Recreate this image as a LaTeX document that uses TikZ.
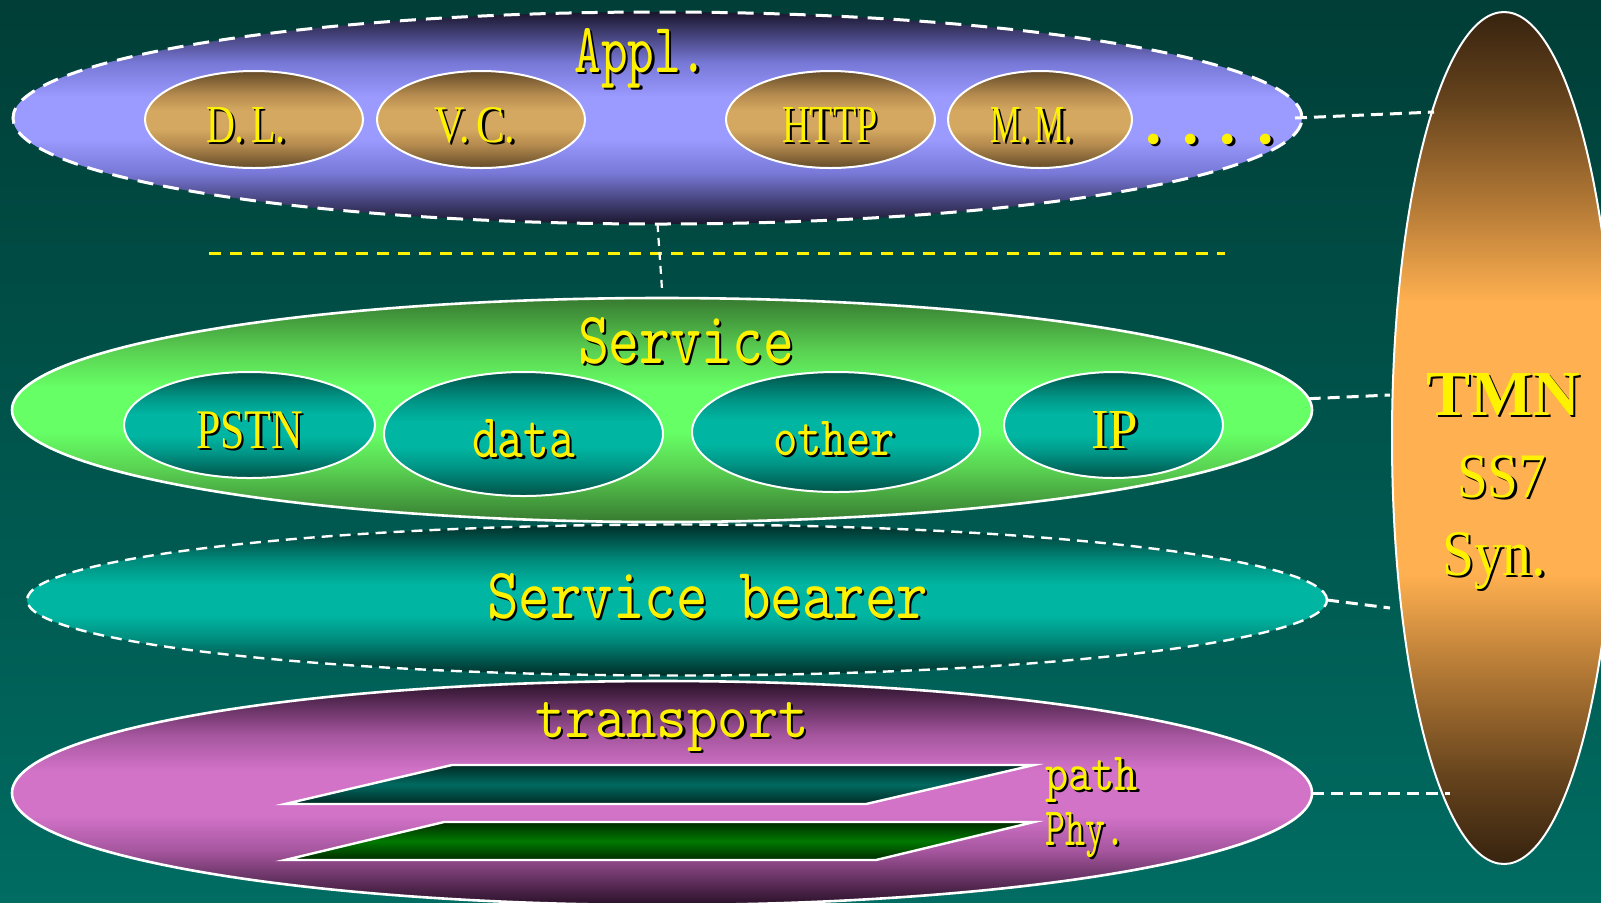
\documentclass[tikz,border=0pt]{standalone}
\usepackage{fontspec}
\setmainfont{Liberation Serif}
\usepackage{graphicx}
\usetikzlibrary{shapes.geometric,calc}
\newcommand\monof{\ttfamily\addfontfeatures{FakeBold=2.2}}

\definecolor{bgT}{RGB}{0,62,55}
\definecolor{bgB}{RGB}{0,108,98}
\definecolor{aD}{RGB}{26,22,45}
\definecolor{aM}{RGB}{120,120,215}
\definecolor{aL}{RGB}{154,154,255}
\definecolor{oD}{RGB}{100,75,40}
\definecolor{oM}{RGB}{180,138,78}
\definecolor{oL}{RGB}{212,168,96}
\definecolor{sD}{RGB}{55,122,48}
\definecolor{sM}{RGB}{90,210,82}
\definecolor{sL}{RGB}{102,255,102}
\definecolor{tD}{RGB}{0,82,72}
\definecolor{tM}{RGB}{0,150,135}
\definecolor{tL}{RGB}{0,182,162}
\definecolor{bD}{RGB}{0,45,40}
\definecolor{bM}{RGB}{0,140,125}
\definecolor{bL}{RGB}{0,182,162}
\definecolor{pD}{RGB}{40,16,40}
\definecolor{pM}{RGB}{165,85,158}
\definecolor{pL}{RGB}{210,115,200}
\definecolor{mD}{RGB}{55,35,15}
\definecolor{mA}{RGB}{100,66,28}
\definecolor{mM}{RGB}{175,118,52}
\definecolor{mL}{RGB}{255,176,80}
\definecolor{paE}{RGB}{0,42,36}
\definecolor{paM}{RGB}{0,106,96}
\definecolor{phE}{RGB}{0,42,0}
\definecolor{phM}{RGB}{0,122,0}

\newcommand\mksh[4]{\pgfdeclareverticalshading{#1}{100bp}{color(0bp)=(#2); color(25bp)=(#2); color(37bp)=(#3); color(45bp)=(#4); color(55bp)=(#4); color(63bp)=(#3); color(75bp)=(#2); color(100bp)=(#2)}}
\mksh{shAppl}{aD}{aM}{aL}
\mksh{shOra}{oD}{oM}{oL}
\mksh{shServ}{sD}{sM}{sL}
\mksh{shTeal}{tD}{tM}{tL}
\mksh{shBear}{bD}{bM}{bL}
\mksh{shTrans}{pD}{pM}{pL}
\pgfdeclareverticalshading{shTmn}{100bp}{color(0bp)=(mD); color(25bp)=(mD); color(30bp)=(mA); color(36bp)=(mM); color(42bp)=(mL); color(58bp)=(mL); color(64bp)=(mM); color(70bp)=(mA); color(75bp)=(mD); color(100bp)=(mD)}

\newcommand\lbl[4]{\rlap{\kern1.2pt\raisebox{-1.2pt}{\color{black}\resizebox{#2}{#3}{#1#4}}}{\color{yellow}\resizebox{#2}{#3}{#1#4}}}
\newcommand\dotrow{.\hspace{7.5pt}.\hspace{7.5pt}.\hspace{7.5pt}.}

\begin{document}
\begin{tikzpicture}[x=0.5pt,y=-0.5pt,
  layer/.style={ellipse, draw=white, line width=1.3pt, inner sep=0pt, outer sep=0pt, shade},
  sub/.style={ellipse, draw=white, line width=1pt, inner sep=0pt, outer sep=0pt, shade},
  conn/.style={draw=white, line width=1.5pt, dash pattern=on 6pt off 3.5pt},
  vconn/.style={draw=white, line width=1.1pt, dash pattern=on 4pt off 3pt},
  sepline/.style={draw=yellow, line width=1.5pt, dash pattern=on 6.2pt off 4.3pt},
  txt/.style={inner sep=0pt, outer sep=0pt, anchor=base},
  plate/.style={draw=white, line width=1.2pt}]
\useasboundingbox (0,0) rectangle (1601,902);
\clip (0,0) rectangle (1601,902);
\shade[top color=bgT, bottom color=bgB] (0,0) rectangle (1601,902);

% separator
\coordinate (y1) at (209,253);
\coordinate (y2) at (1225,253);
\draw[sepline] (y1) -- (y2);

% Application layer
\node[layer, shading=shAppl, line width=1.5pt, dash pattern=on 8pt off 5pt, minimum width=644.5pt, minimum height=106pt] (appl) at (657.5,118) {};
\node[sub, shading=shOra, minimum width=109pt, minimum height=48.5pt] (dl) at (254,119.5) {};
\node[sub, shading=shOra, minimum width=104pt, minimum height=48.5pt] (vc) at (481,119.5) {};
\node[sub, shading=shOra, minimum width=104.5pt, minimum height=48.5pt] (http) at (830.5,119.5) {};
\node[sub, shading=shOra, minimum width=92pt, minimum height=48.5pt] (mm) at (1040,119.5) {};
\node[txt] (tappl) at (641,72) {\lbl{\monof}{66.5pt}{22pt}{Appl.}};
\node[txt] (tdl) at (246,142) {\lbl{}{40pt}{17.5pt}{D.\,L.}};
\node[txt] (tvc) at (475,142) {\lbl{}{40.5pt}{17.5pt}{V.\,C.}};
\node[txt] (thttp) at (830,142) {\lbl{}{47.5pt}{17.5pt}{HTTP}};
\node[txt] (tmm) at (1032,142) {\lbl{}{41.5pt}{17.5pt}{M.\,M.}};
\node[txt, anchor=base west] (tdots) at (1142,143) {\fontsize{45pt}{45pt}\selectfont\rlap{\kern1.3pt\raisebox{-1.3pt}{\color{black}\dotrow}}{\color{yellow}\dotrow}};

% Service layer
\node[layer, shading=shServ, minimum width=650pt, minimum height=112pt] (service) at (662,410) {};
\node[sub, shading=shTeal, minimum width=125.5pt, minimum height=53pt] (pstn) at (249.5,425) {};
\node[sub, shading=shTeal, minimum width=139.5pt, minimum height=62pt] (data) at (523.5,434) {};
\node[sub, shading=shTeal, minimum width=144pt, minimum height=60pt] (other) at (836,432) {};
\node[sub, shading=shTeal, minimum width=109.5pt, minimum height=53pt] (ip) at (1113.5,425) {};
\node[txt] (tservice) at (686,363) {\lbl{\monof}{108pt}{23pt}{Service}};
\node[txt] (tpstn) at (249.5,448) {\lbl{}{53.5pt}{18.5pt}{PSTN}};
\node[txt] (tdata) at (523.5,457) {\lbl{\monof}{51.5pt}{19pt}{data}};
\node[txt] (tother) at (834,455) {\lbl{\monof}{61pt}{17pt}{other}};
\node[txt] (tip) at (1114.5,448) {\lbl{}{23.5pt}{18.5pt}{IP}};

% Service bearer layer
\node[layer, shading=shBear, line width=1.2pt, dash pattern=on 5.5pt off 3.5pt, minimum width=650pt, minimum height=75.5pt] (bearer) at (677,600) {};
\node[txt] (tbearer) at (707.5,618) {\lbl{\monof}{220.5pt}{22.5pt}{Service bearer}};

% Transport layer
\node[layer, shading=shTrans, minimum width=650pt, minimum height=112pt] (transport) at (662,793) {};
\node[txt] (ttransport) at (672,737) {\lbl{\monof}{137pt}{17.5pt}{transport}};
\draw[plate, top color=paE, bottom color=paE, middle color=paM] (285,804) -- (452,765) -- (1034,765) -- (866,804) -- cycle;
\draw[plate, top color=phE, bottom color=phE, middle color=phM] (285,860) -- (444,822) -- (1034,822) -- (876,860) -- cycle;
\node[txt] (tpath) at (1091.5,790) {\lbl{\monof}{46.5pt}{16.5pt}{path}};
\node[txt] (tphy) at (1085,845) {\lbl{\monof}{40pt}{16.5pt}{Phy.}};

% Management plane
\node[sub, shading=shTmn, minimum width=112pt, minimum height=426pt] (tmn) at (1504,438) {};
\node[txt] (ttmn) at (1503,415) {\lbl{\bfseries}{77pt}{21pt}{TMN}};
\node[txt] (tss) at (1501.5,497) {\lbl{}{44.5pt}{21pt}{SS7}};
\node[txt] (tsyn) at (1494,575) {\lbl{}{52pt}{21.5pt}{Syn.}};

% connectors
\coordinate (e1) at (1434,112);
\coordinate (e2) at (1390,395);
\coordinate (e3) at (1390,608);
\coordinate (e4) at (1450,793);
\coordinate (v2) at (662,289);
\draw[conn] ($(appl.east)+(-7,0)$) -- (e1);
\draw[conn] (service.1.3) -- (e2);
\draw[conn] (bearer.-0.7) -- (e3);
\draw[conn] (transport.east) -- (e4);
\draw[vconn] (appl.south) -- (v2);
\end{tikzpicture}
\end{document}
